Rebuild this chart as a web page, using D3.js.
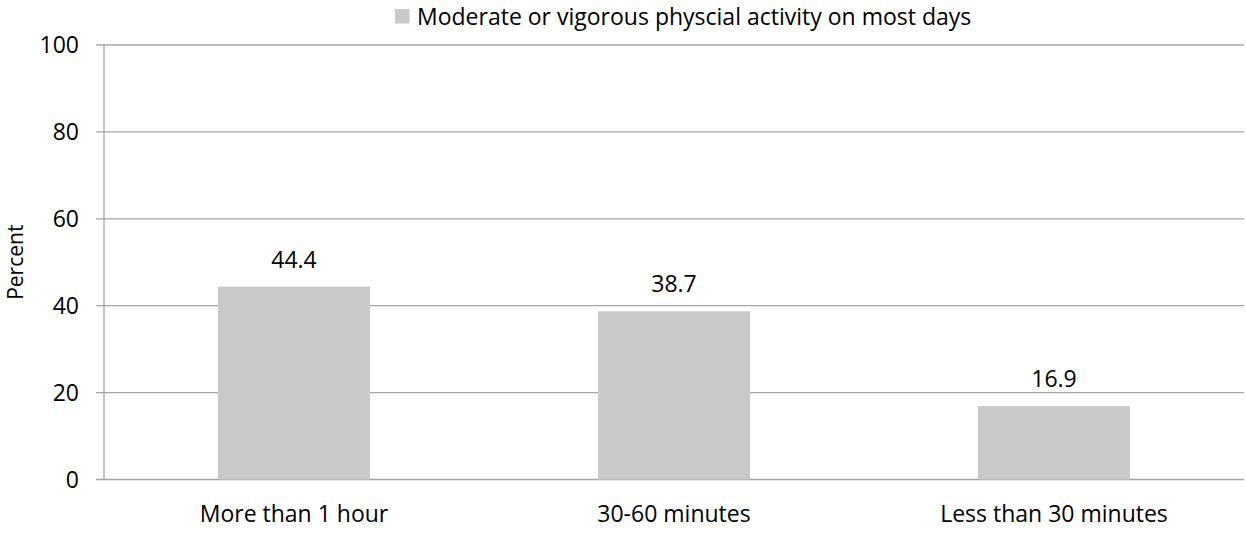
<!DOCTYPE html>
<html>
<head>
<meta charset="utf-8">
<script src="https://cdn.jsdelivr.net/npm/d3@7"></script>
<style>
  body { margin: 0; background: #fff; }
  text { font-family: "Open Sans", Lato, sans-serif; fill: #000; }
</style>
</head>
<body>
<div id="chart"></div>
<script>
// Chart data
const categories = ['More than 1 hour', '30-60 minutes', 'Less than 30 minutes'];
const values = [44.4, 38.7, 16.9];
const yTicks = [0, 20, 40, 60, 80, 100];
const seriesName = 'Moderate or vigorous physcial activity on most days';

const W = 1246, H = 534;
const margin = { top: 45, right: 2, bottom: 54.5, left: 104 };
const width = W - margin.left - margin.right;
const height = H - margin.top - margin.bottom;
const fontSize = '23px';

const svg = d3.select('#chart')
    .append('svg')
    .attr('width', W)
    .attr('height', H);

const g = svg.append('g')
    .attr('transform', `translate(${margin.left},${margin.top})`);

// Scales
const x = d3.scaleBand()
    .domain(categories)
    .range([0, width])
    .paddingInner(0.6)
    .paddingOuter(0.3);

const y = d3.scaleLinear()
    .domain([0, 100])
    .range([height, 0]);

// Gridlines with little tick stubs on the left
g.append('g')
    .selectAll('line')
    .data(yTicks)
    .enter()
    .append('line')
    .attr('x1', -8)
    .attr('x2', width)
    .attr('y1', d => y(d))
    .attr('y2', d => y(d))
    .attr('stroke', '#a6a6a6')
    .attr('stroke-width', 1.3);

// Y axis line
g.append('line')
    .attr('x1', 0).attr('x2', 0)
    .attr('y1', 0).attr('y2', height)
    .attr('stroke', '#a6a6a6')
    .attr('stroke-width', 1.3);

// Y tick labels
g.append('g')
    .selectAll('text')
    .data(yTicks)
    .enter()
    .append('text')
    .attr('x', -25)
    .attr('y', d => y(d))
    .attr('dy', '0.36em')
    .attr('text-anchor', 'end')
    .style('font-size', fontSize)
    .text(d => d);

// Bars
g.selectAll('.bar')
    .data(values)
    .enter()
    .append('rect')
    .attr('class', 'bar')
    .attr('x', (d, i) => x(categories[i]))
    .attr('y', d => y(d))
    .attr('width', x.bandwidth())
    .attr('height', d => height - y(d))
    .attr('fill', '#c9c9c9');

// Value labels
g.selectAll('.val')
    .data(values)
    .enter()
    .append('text')
    .attr('class', 'val')
    .attr('x', (d, i) => x(categories[i]) + x.bandwidth() / 2)
    .attr('y', d => y(d) - 19)
    .attr('text-anchor', 'middle')
    .style('font-size', fontSize)
    .text(d => d.toFixed(1));

// Category labels
g.selectAll('.cat')
    .data(categories)
    .enter()
    .append('text')
    .attr('class', 'cat')
    .attr('x', d => x(d) + x.bandwidth() / 2)
    .attr('y', height + 42)
    .attr('text-anchor', 'middle')
    .style('font-size', fontSize)
    .text(d => d);

// Y axis title
svg.append('text')
    .attr('transform', `translate(23,${margin.top + height / 2}) rotate(-90)`)
    .attr('text-anchor', 'middle')
    .style('font-size', '21px')
    .text('Percent');

// Legend (text a touch lower so it is not clipped at the top)
const legend = svg.append('g').attr('transform', 'translate(395,9)');
legend.append('rect')
    .attr('width', 14.5)
    .attr('height', 14.5)
    .attr('fill', '#c9c9c9');
legend.append('text')
    .attr('x', 22)
    .attr('y', 16)
    .style('font-size', fontSize)
    .text(seriesName);
</script>
</body>
</html>
